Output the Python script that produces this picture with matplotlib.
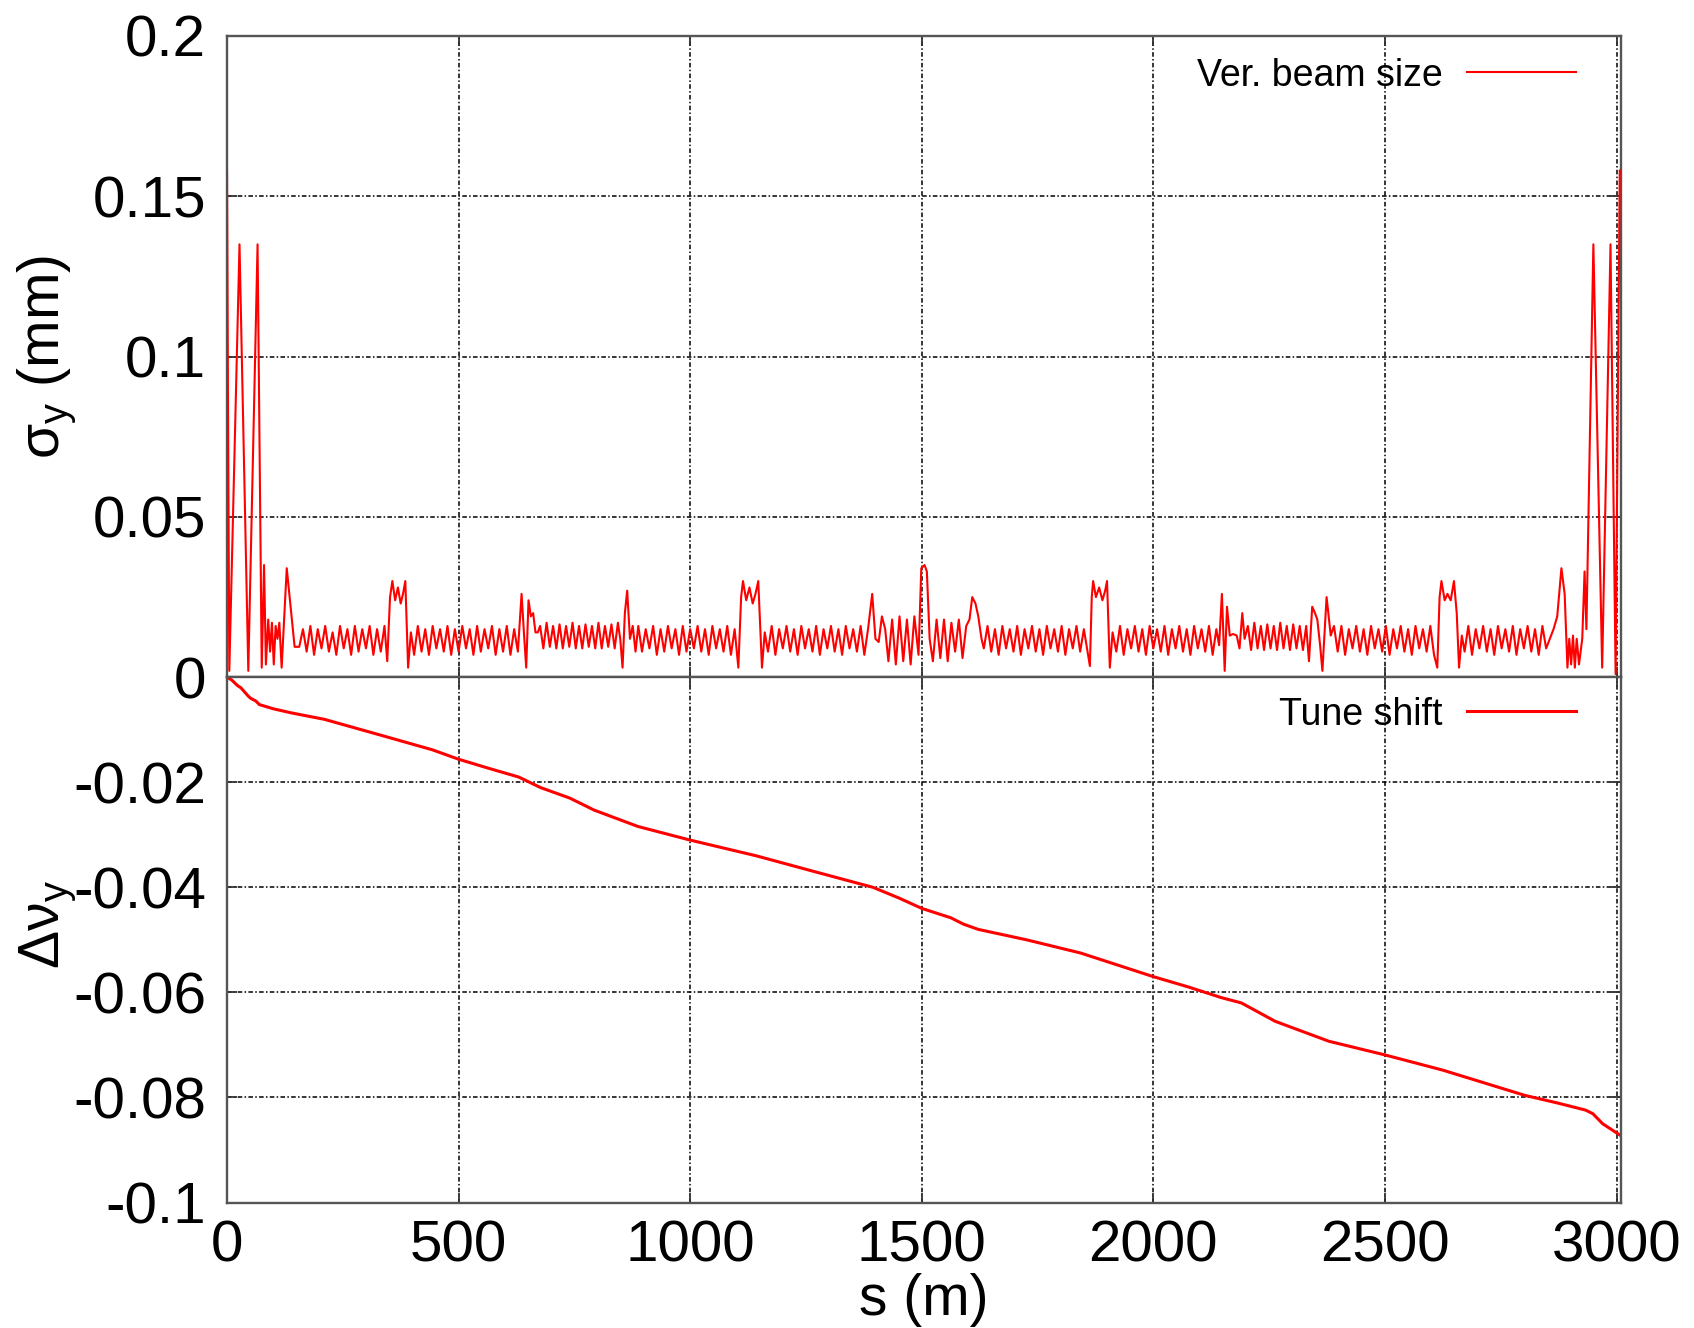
import numpy as np
import matplotlib
matplotlib.use('Agg')
import matplotlib.pyplot as plt

plt.rcParams['font.family'] = ['Liberation Sans', 'DejaVu Sans']
plt.rcParams['mathtext.fontset'] = 'custom'
plt.rcParams['mathtext.rm'] = 'Liberation Sans'
plt.rcParams['mathtext.it'] = 'Liberation Sans:italic'

# vertical beam size along the ring, s (m) / sigma_y (mm), region by region
s_a = [0, 2, 5, 27, 46, 66, 75, 80, 84, 89, 93, 97, 101, 105, 109, 113, 118, 129, 146, 156]
sy_a = [.158, .090, .002, .135, .002, .135, .003, .035, .004, .018, .008, .017, .004, .016, .012, .017,
        .003, .034, .0095, .0095]
s_b = [164, 172, 180, 188, 196, 204, 212, 220, 228, 236, 244, 252, 260, 268, 276, 284, 292, 300, 308,
       316, 324, 332, 340, 346, 352, 357, 363, 369, 375, 380, 385, 391, 397]
sy_b = [.015, .008, .016, .007, .015, .009, .016, .008, .014, .007, .016, .009, .015, .007, .016, .008,
        .015, .009, .016, .007, .015, .008, .016, .005, .025, .030, .024, .028, .023, .026, .030, .003, .014]
s_c = [404, 412, 420, 428, 436, 444, 452, 460, 468, 476, 484, 492, 500, 508, 516, 524, 532, 540, 548,
       556, 564, 572, 580, 588, 596, 604, 612, 620, 628, 636, 641, 646, 651, 656, 661, 666, 671]
sy_c = [.007, .016, .008, .015, .007, .016, .009, .015, .008, .016, .007, .015, .008, .016, .009, .015,
        .007, .016, .008, .015, .009, .016, .007, .015, .008, .016, .007, .015, .008, .026, .014, .003,
        .024, .019, .020, .014, .014]
s_d = [676, 683, 690, 697, 704, 711, 718, 725, 732, 739, 746, 753, 760, 767, 774, 781, 788, 795, 802,
       809, 816, 823, 830, 837, 844, 849, 854, 859, 864, 870, 876, 882]
sy_d = [.016, .009, .017, .0095, .016, .009, .0165, .009, .016, .0095, .017, .009, .016, .009, .0165,
        .0095, .016, .009, .017, .009, .016, .0095, .0165, .009, .017, .012, .003, .020, .027, .012,
        .016, .008]
s_e = [888, 896, 904, 912, 920, 928, 936, 944, 952, 960, 968, 976, 984, 992, 1000, 1008, 1016, 1024,
       1032, 1040, 1048, 1056, 1064, 1072, 1080, 1088, 1096, 1104, 1110, 1114, 1121, 1128, 1135, 1141,
       1147, 1155, 1161]
sy_e = [.016, .008, .015, .009, .016, .007, .015, .008, .016, .009, .015, .007, .016, .008, .015, .009,
        .016, .008, .015, .007, .016, .009, .015, .008, .016, .007, .015, .003, .025, .030, .024, .028,
        .023, .026, .030, .003, .014]
s_f = [1168, 1176, 1184, 1192, 1200, 1208, 1216, 1224, 1232, 1240, 1248, 1256, 1264, 1272, 1280, 1288,
       1296, 1304, 1312, 1320, 1328, 1336, 1344, 1352, 1360, 1368, 1376, 1384, 1393, 1400, 1407, 1414,
       1421, 1428, 1436, 1444, 1452, 1460, 1468, 1476, 1484, 1493, 1499, 1506, 1511, 1517, 1524, 1532,
       1540, 1548, 1556, 1564, 1572, 1580, 1588, 1596, 1603, 1609, 1616, 1622, 1629, 1634]
sy_f = [.008, .016, .007, .015, .009, .016, .008, .015, .007, .016, .009, .015, .008, .016, .007, .015,
        .009, .016, .008, .015, .007, .016, .009, .015, .008, .016, .007, .015, .026, .012, .011, .019,
        .015, .005, .018, .004, .019, .005, .018, .004, .019, .007, .034, .035, .033, .012, .005, .018,
        .006, .018, .005, .017, .008, .018, .006, .016, .018, .025, .023, .019, .012, .009]
s_g = [1642, 1650, 1658, 1666, 1674, 1682, 1690, 1698, 1706, 1714, 1722, 1730, 1738, 1746, 1754, 1762,
       1770, 1778, 1786, 1794, 1802, 1810, 1818, 1826, 1834, 1842, 1850, 1858, 1863, 1867, 1870, 1876,
       1883, 1890, 1896, 1900, 1906, 1912]
sy_g = [.016, .008, .015, .007, .016, .009, .015, .008, .016, .007, .015, .009, .016, .008, .015, .007,
        .016, .009, .015, .008, .016, .007, .015, .009, .016, .008, .015, .008, .0035, .025, .030, .025,
        .028, .024, .027, .030, .003, .014]
s_h = [1920, 1928, 1936, 1944, 1952, 1960, 1968, 1976, 1984, 1992, 2000, 2008, 2016, 2024, 2032, 2040,
       2048, 2056, 2064, 2072, 2080, 2088, 2096, 2104, 2112, 2120, 2128, 2136, 2142, 2148, 2154, 2159,
       2165, 2172, 2180, 2186, 2192, 2197]
sy_h = [.008, .016, .007, .015, .009, .016, .008, .015, .007, .016, .009, .015, .008, .016, .007, .015,
        .009, .016, .008, .015, .007, .016, .009, .015, .008, .016, .007, .015, .010, .026, .002, .022,
        .013, .0135, .013, .009, .020, .012]
s_i = [2204, 2211, 2218, 2225, 2232, 2239, 2246, 2253, 2260, 2267, 2274, 2281, 2288, 2295, 2302, 2309,
       2316, 2323, 2330, 2336, 2343, 2349, 2354, 2360, 2365, 2374, 2383, 2390]
sy_i = [.016, .0085, .017, .009, .016, .0085, .0165, .009, .016, .0085, .017, .009, .016, .0085, .0165,
        .009, .016, .0085, .016, .005, .022, .020, .018, .010, .002, .025, .013, .016]
s_j = [2398, 2406, 2414, 2422, 2430, 2438, 2446, 2454, 2462, 2470, 2478, 2486, 2494, 2502, 2510, 2518,
       2526, 2534, 2542, 2550, 2558, 2566, 2574, 2582, 2590, 2598, 2606, 2613, 2618, 2622, 2629, 2635,
       2642, 2649, 2655, 2660, 2666]
sy_j = [.008, .016, .007, .015, .009, .016, .008, .015, .007, .016, .009, .015, .008, .016, .007, .015,
        .009, .016, .008, .015, .007, .016, .009, .015, .008, .016, .007, .003, .025, .030, .024, .026,
        .024, .030, .020, .003, .013]
s_k = [2672, 2680, 2688, 2696, 2704, 2712, 2720, 2728, 2736, 2744, 2752, 2760, 2768, 2776, 2784, 2792,
       2800, 2808, 2816, 2824, 2832, 2840, 2848, 2856, 2864, 2872, 2881, 2888, 2894, 2898, 2902, 2906,
       2910, 2914, 2919, 2926, 2931, 2935, 2950, 2969, 2987, 2998, 3007]
sy_k = [.008, .016, .007, .015, .009, .016, .008, .015, .007, .016, .009, .015, .008, .016, .007, .015,
        .009, .016, .008, .015, .007, .016, .009, .012, .015, .019, .034, .026, .003, .012, .004, .013,
        .003, .012, .004, .012, .033, .015, .135, .003, .135, .001, .158]

# vertical tune shift accumulated along s
s_tune = [0, 10, 23, 30, 45, 51, 62, 70, 100, 140, 210, 327, 443, 500, 560, 630, 677, 740, 793, 887,
          1000, 1143, 1260, 1395, 1450, 1500, 1563, 1590, 1622, 1727, 1843, 2000, 2077, 2147, 2190,
          2263, 2379, 2500, 2625, 2802, 2870, 2933, 2949, 2970, 3008]
dnu_y = [0, -0.0005, -0.0016, -0.002, -0.0035, -0.004, -0.0045, -0.0052, -0.006, -0.0068, -0.008,
         -0.0109, -0.0138, -0.0156, -0.0172, -0.019, -0.021, -0.023, -0.0253, -0.0284, -0.031, -0.034,
         -0.0368, -0.040, -0.042, -0.044, -0.0458, -0.047, -0.048, -0.050, -0.0525, -0.057, -0.059,
         -0.061, -0.062, -0.0655, -0.0693, -0.0719, -0.0748, -0.0796, -0.081, -0.0824, -0.0831,
         -0.085, -0.0872]

s_beam = np.array(s_a + s_b + s_c + s_d + s_e + s_f + s_g + s_h + s_i + s_j + s_k, dtype=float)
sigma_y = np.array(sy_a + sy_b + sy_c + sy_d + sy_e + sy_f + sy_g + sy_h + sy_i + sy_j + sy_k)

x_ticks = [0, 500, 1000, 1500, 2000, 2500, 3000]
top_ticks = [0, 0.05, 0.1, 0.15, 0.2]
top_labels = ['0', '0.05', '0.1', '0.15', '0.2']
bot_ticks = [-0.1, -0.08, -0.06, -0.04, -0.02, 0]
bot_labels = ['-0.1', '-0.08', '-0.06', '-0.04', '-0.02', '']

fig = plt.figure(figsize=(16.94, 13.28), dpi=100)
ax1 = fig.add_axes([0.134, 0.490, 0.823, 0.483])
ax2 = fig.add_axes([0.134, 0.0945, 0.823, 0.3955])

grid_style = dict(color='black', linestyle=(0, (3, 1.5, 1, 1.5)), linewidth=1.1)

for ax in (ax1, ax2):
    ax.set_xlim(0, 3010)
    ax.set_xticks(x_ticks)
    ax.grid(True, **grid_style)
    ax.tick_params(direction='in', length=7, width=1.3, top=True, right=True,
                   labelsize=42, color='#333333')
    ax.tick_params(axis='y', pad=15)
    ax.tick_params(axis='x', pad=12)
    for sp in ax.spines.values():
        sp.set_linewidth(1.7)
        sp.set_color('#555555')

ax1.plot(s_beam, sigma_y, color='#ff0000', lw=1.5, label='Ver. beam size', zorder=5)
ax1.set_ylim(0, 0.2)
ax1.set_yticks(top_ticks)
ax1.set_yticklabels(top_labels)
ax1.tick_params(axis='x', labelbottom=False)
ax1.set_ylabel('σ$_\\mathregular{y}$ (mm)', fontsize=41)
ax1.yaxis.set_label_coords(-0.107, 0.5)
ax1.legend(loc='center right', bbox_to_anchor=(0.981, 0.938), frameon=False, fontsize=27,
           markerfirst=False, handlelength=2.9, handletextpad=0.65, borderpad=0)

ax2.plot(s_tune, dnu_y, color='#ff0000', lw=2.2, label='Tune shift')
ax2.set_ylim(-0.1, 0)
ax2.set_yticks(bot_ticks)
ax2.set_yticklabels(bot_labels)
ax2.set_xticklabels([str(t) for t in x_ticks])
ax2.set_xlabel('s (m)', fontsize=41)
ax2.xaxis.set_label_coords(0.5, -0.135)
ax2.set_ylabel('Δν$_\\mathregular{y}$', fontsize=41)
ax2.yaxis.set_label_coords(-0.107, 0.53)
ax2.legend(loc='center right', bbox_to_anchor=(0.981, 0.929), frameon=False, fontsize=27,
           markerfirst=False, handlelength=2.9, handletextpad=0.65, borderpad=0)

fig.savefig('out.png', dpi=100)
